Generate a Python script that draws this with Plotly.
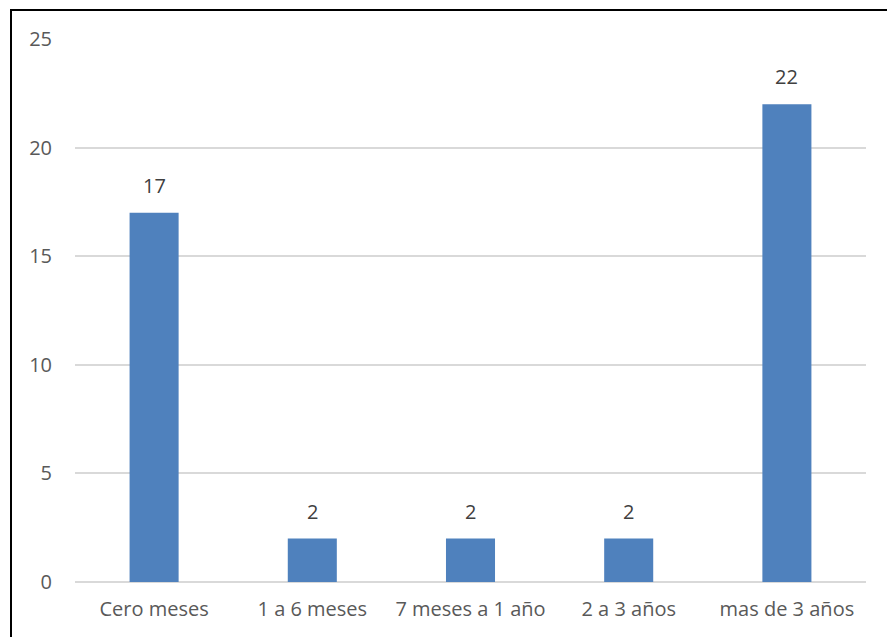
import plotly.graph_objects as go

categories = ["Cero meses", "1 a 6 meses", "7 meses a 1 año", "2 a 3 años", "mas de 3 años"]
values = [17, 2, 2, 2, 22]
y_ticks = [0, 5, 10, 15, 20, 25]

W, H = 887, 637
L, R, T, B = 75, 21, 39, 55
pw = W - L - R
ph = H - T - B

fig = go.Figure()
fig.add_trace(go.Bar(
    x=categories, y=values,
    marker=dict(color="#4F81BD", line=dict(width=0)),
    hoverinfo="skip",
))

for c, v in zip(categories, values):
    fig.add_annotation(
        x=c, y=v, text=str(v), showarrow=False,
        yanchor="bottom", yshift=12,
        font=dict(family="Open Sans", size=20, color="#404040"),
    )

# outer border of the chart
fig.add_shape(
    type="rect", xref="paper", yref="paper",
    x0=(11 - L) / pw, x1=(W + 20 - L) / pw,
    y0=-(H + 20 - (T + ph)) / ph, y1=(T + ph - 10) / ph,
    line=dict(color="black", width=2), fillcolor="rgba(0,0,0,0)",
    layer="above",
)

fig.update_layout(
    width=W, height=H,
    margin=dict(l=L, r=R, t=T, b=B),
    paper_bgcolor="white", plot_bgcolor="white",
    bargap=0.69,
    showlegend=False,
    font=dict(family="Open Sans", size=20, color="#595959"),
    xaxis=dict(
        showgrid=False, showline=False, zeroline=False,
        ticks="outside", ticklen=9, tickcolor="rgba(0,0,0,0)",
        tickfont=dict(family="Open Sans", size=20, color="#595959"),
    ),
    yaxis=dict(
        range=[0, 25], tickvals=y_ticks,
        showgrid=True, gridcolor="#D9D9D9", gridwidth=2,
        zeroline=True, zerolinecolor="#D9D9D9", zerolinewidth=2,
        showline=False,
        ticks="outside", ticklen=18, tickcolor="rgba(0,0,0,0)",
        tickfont=dict(family="Open Sans", size=20, color="#595959"),
    ),
)

fig.write_html("out.html")
